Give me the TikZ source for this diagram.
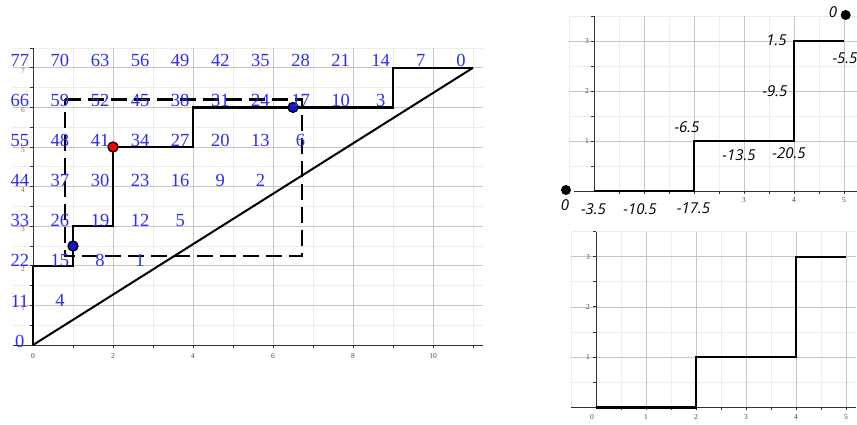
\documentclass[tikz,border=0pt]{standalone}
\usepackage{fontspec}
\setmainfont{Liberation Serif}
\newfontfamily\lblfont{Open Sans}
\definecolor{numblue}{RGB}{45,45,245}
\definecolor{gridlo}{RGB}{236,236,236}
\definecolor{gridhi}{RGB}{198,198,198}
\definecolor{ticklbl}{RGB}{70,70,95}
\definecolor{yticklbl}{RGB}{130,110,80}
\definecolor{dotblue}{RGB}{20,20,200}
\tikzset{
  gminor/.style={draw=gridlo, line width=0.8pt},
  gmajor/.style={draw=gridhi, line width=0.8pt},
  axisline/.style={draw=black!80, line width=0.9pt},
  stair/.style={draw=black, line width=2.4pt, line join=miter},
  diag/.style={draw=black, line width=2pt},
  dashbox/.style={draw=black, line width=2.4pt, dash pattern=on 16pt off 7pt},
  numlbl/.style={text=numblue, font=\fontsize{18.5}{20}\selectfont, inner sep=0pt},
  ticklab/.style={font=\fontsize{7.5}{8}\selectfont, text=ticklbl, inner sep=0pt},
  yticklab/.style={font=\fontsize{7.5}{8}\selectfont, text=yticklbl, inner sep=0pt},
  vallbl/.style={font=\lblfont\itshape\fontsize{15}{16}\selectfont, inner sep=0pt},
  dotmark/.style={circle, draw=black, line width=1.3pt, minimum size=10pt, inner sep=0pt},
}
\begin{document}
\begin{tikzpicture}[x=1pt,y=-1pt]
\useasboundingbox (0,0) rectangle (857,425);
\fill[white] (0,0) rectangle (857,425);

% ---------------- left plot ----------------
\begin{scope}[shift={(33,345)}, x=40pt, y=39.6pt]
  \foreach \yy in {0.5,1.5,...,7.5} \draw[gminor] (-0.5,\yy) -- (11.25,\yy);
  \foreach \xx in {1,3,...,11} \draw[gminor] (\xx,0) -- (\xx,7.5);
  \foreach \yy in {1,...,7} \draw[gmajor] (-0.5,\yy) -- (11.25,\yy);
  \foreach \xx in {2,4,...,10} \draw[gmajor] (\xx,0) -- (\xx,7.5);
  \draw[axisline] (-0.5,0) -- (11.25,0);
  \draw[axisline] (0,0) -- (0,7.5);
  \foreach \xx in {1,...,11} \draw[axisline] (\xx,0) -- ++(0,-3pt);
  \foreach \yy in {0.5,1,...,7.5} \draw[axisline] (0,\yy) -- ++(-3pt,0);
  \foreach \xx in {0,2,...,10} \node[ticklab] (lx\xx) at ([yshift=-11pt]\xx,0) {\xx};
  \foreach \yy in {1,...,7} \node[yticklab] (ly\yy) at ([xshift=-10pt,yshift=-3pt]0,\yy) {\yy};
  \draw[diag] (0,0) -- (11,7);
  \draw[stair] (0,0) -- (0,2) -- (1,2) -- (1,3) -- (2,3) -- (2,5) -- (4,5) -- (4,6) -- (9,6) -- (9,7) -- (11,7);
  \draw[dashbox] (0.8,6.2) -- (6.73,6.2) -- (6.73,2.25) -- (0.8,2.25) -- cycle;
  \node[dotmark, fill=dotblue] (dA) at (1,2.5) {};
  \node[dotmark, fill=red] (dB) at (2,5) {};
  \node[dotmark, fill=dotblue] (dC) at (6.5,6) {};
\end{scope}
% blue labels: value 11r - 7k
\foreach \r in {0,...,7} {
  \pgfmathtruncatemacro{\kmax}{floor(11*\r/7)}
  \foreach \k in {0,...,\kmax} {
    \pgfmathtruncatemacro{\val}{11*\r-7*\k}
    \node[numlbl] (n-\r-\k) at ({19.8+40.1*\k},{341-40.1*\r}) {\val};
  }
}

% ---------------- top right plot ----------------
\begin{scope}[shift={(594,191)}, x=50pt, y=50pt]
  \foreach \xx in {-0.5,0.5,...,4.5} \draw[gminor] (\xx,0) -- (\xx,3.5);
  \foreach \yy in {0.5,1.5,2.5,3.5} \draw[gminor] (-0.5,\yy) -- (5.3,\yy);
  \foreach \xx in {1,...,5} \draw[gmajor] (\xx,0) -- (\xx,3.5);
  \foreach \yy in {1,2,3} \draw[gmajor] (-0.5,\yy) -- (5.3,\yy);
  \draw[axisline] (-0.4,0) -- (5.3,0);
  \draw[axisline] (0,0) -- (0,3.5);
  \foreach \xx in {0.5,1,...,5} \draw[axisline] (\xx,0) -- ++(0,-3pt);
  \foreach \yy in {0.5,1,...,3.5} \draw[axisline] (0,\yy) -- ++(-3pt,0);
  \foreach \yy in {1,2,3} \node[ticklab] (ty\yy) at ([xshift=-7pt]0,\yy) {\yy};
  \foreach \xx in {3,4,5} \node[ticklab] (tx\xx) at ([yshift=-9pt]\xx,0) {\xx};
  \draw[stair] (0,0) -- (2,0) -- (2,1) -- (4,1) -- (4,3) -- (5,3);
\end{scope}
\node[circle, fill=black, minimum size=10pt, inner sep=0pt] (pa) at (566,190) {};
\node[circle, fill=black, minimum size=10pt, inner sep=0pt] (pb) at (845.7,15) {};
\node[vallbl] (v1) at (565,205) {0};
\node[vallbl] (v2) at (593.5,209) {-3.5};
\node[vallbl] (v3) at (640,209) {-10.5};
\node[vallbl] (v4) at (693.5,208) {-17.5};
\node[vallbl] (v5) at (687,127) {-6.5};
\node[vallbl] (v6) at (739,155) {-13.5};
\node[vallbl] (v7) at (789,153) {-20.5};
\node[vallbl] (v8) at (775,91) {-9.5};
\node[vallbl] (v9) at (776.5,40) {1.5};
\node[vallbl] (v10) at (845,58) {-5.5};
\node[vallbl] (v11) at (833,12) {0};

% ---------------- bottom right plot ----------------
\begin{scope}[shift={(596,407.3)}, x=50pt, y=50.2pt]
  \foreach \xx in {-0.5,0.5,...,4.5} \draw[gminor] (\xx,0) -- (\xx,3.5);
  \foreach \yy in {0.5,1.5,2.5,3.5} \draw[gminor] (-0.5,\yy) -- (5.2,\yy);
  \foreach \xx in {1,...,5} \draw[gmajor] (\xx,0) -- (\xx,3.5);
  \foreach \yy in {1,2,3} \draw[gmajor] (-0.5,\yy) -- (5.2,\yy);
  \draw[axisline] (-0.5,0) -- (5.2,0);
  \draw[axisline] (0,0) -- (0,3.5);
  \foreach \xx in {0.5,1,...,5} \draw[axisline] (\xx,0) -- ++(0,-3pt);
  \foreach \yy in {0.5,1,...,3.5} \draw[axisline] (0,\yy) -- ++(-3pt,0);
  \foreach \yy in {1,2,3} \node[ticklab] (by\yy) at ([xshift=-8pt]0,\yy) {\yy};
  \node[ticklab] (bx0) at ([xshift=-4pt,yshift=-10pt]0,0) {0};
  \foreach \xx in {1,...,5} \node[ticklab] (bx\xx) at ([yshift=-10pt]\xx,0) {\xx};
  \draw[stair] (0,0) -- (2,0) -- (2,1) -- (4,1) -- (4,3) -- (5,3);
\end{scope}
\end{tikzpicture}
\end{document}
